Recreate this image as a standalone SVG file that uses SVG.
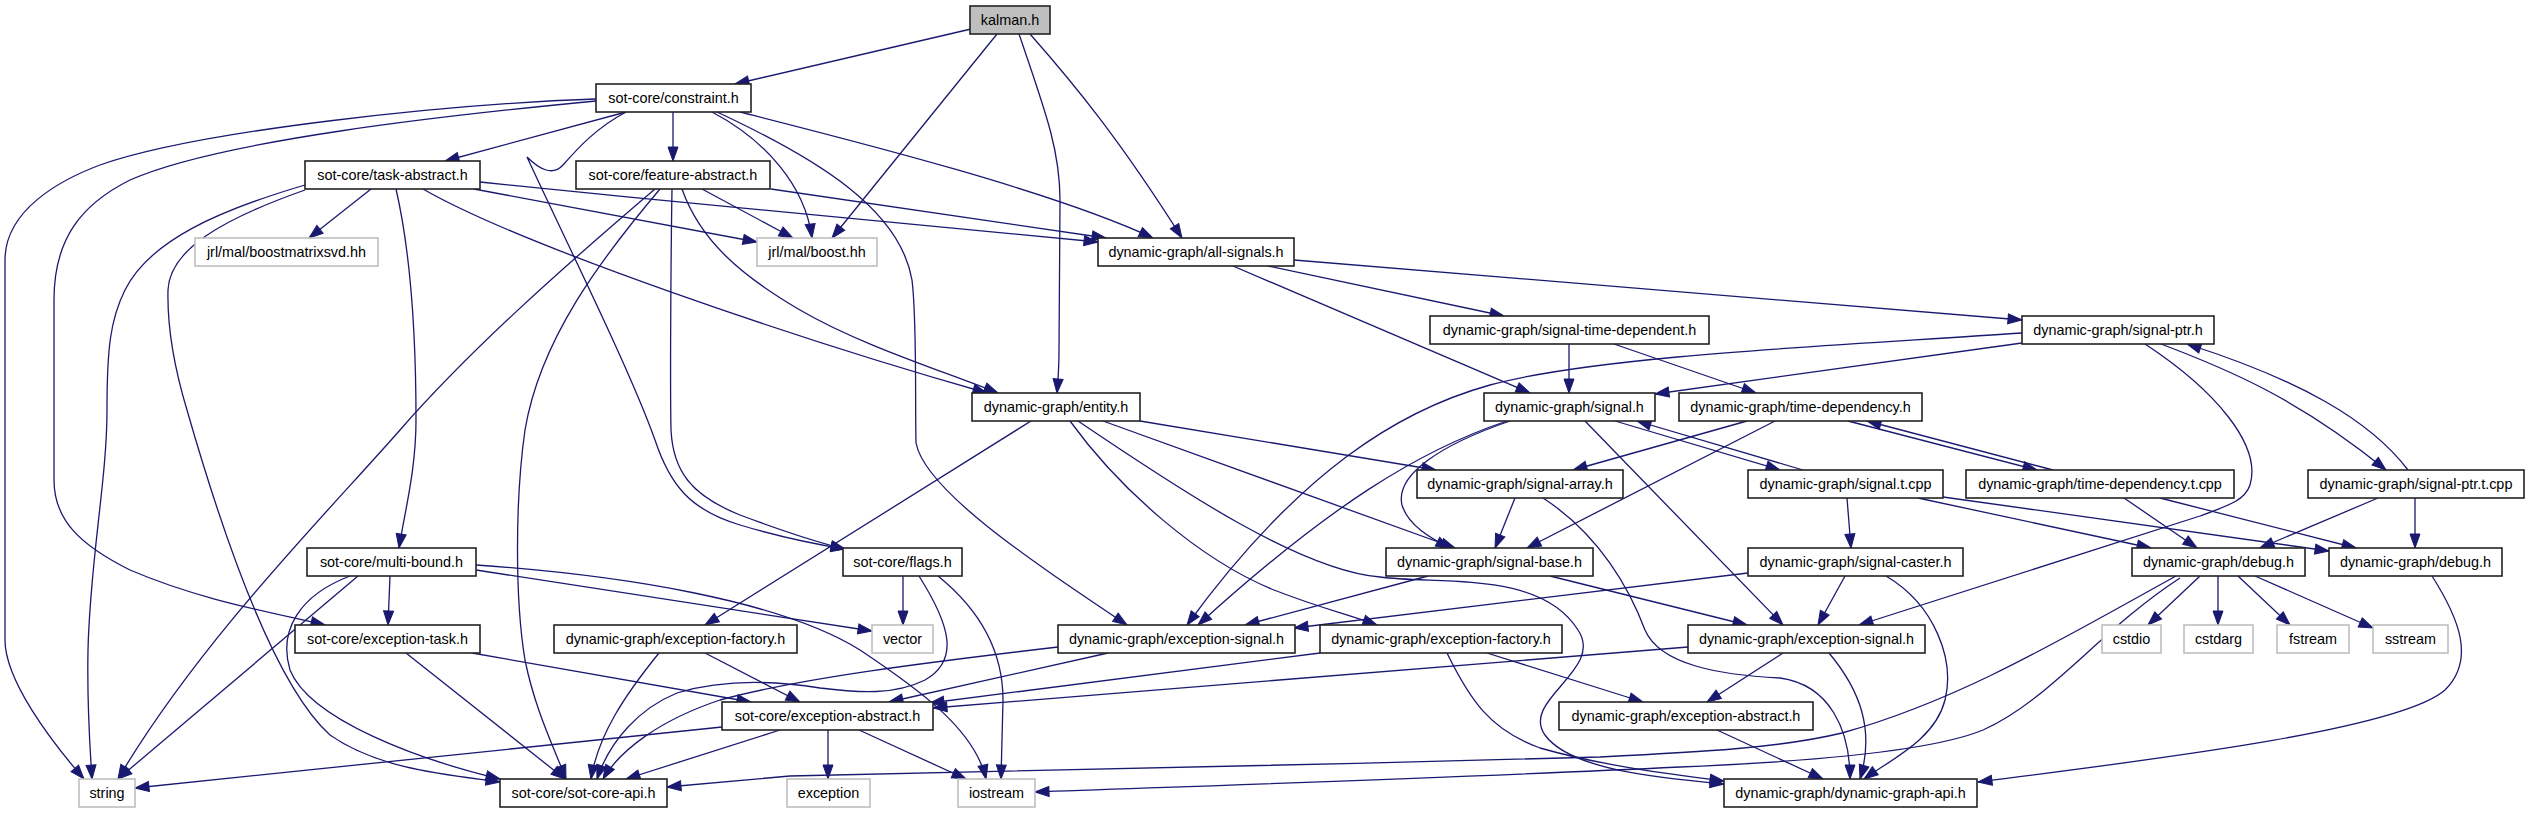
<svg xmlns="http://www.w3.org/2000/svg" width="2529" height="813" viewBox="0 0 2529 813">
<defs>
<style>
.n rect{fill:#fff;stroke:#222;stroke-width:1.6}
.g rect{fill:#fff;stroke:#bfbfbf;stroke-width:1.6}
.k rect{fill:#bfbfbf;stroke:#222;stroke-width:1.6}
text{font-family:"Liberation Sans",Arial,sans-serif;font-size:14.4px;text-anchor:middle;fill:#000}
#edges path{fill:none;stroke:#191970;stroke-width:1.3;marker-end:url(#a)}
</style>
<marker id="a" markerUnits="userSpaceOnUse" markerWidth="15" markerHeight="11" refX="14" refY="5" orient="auto" overflow="visible">
<path d="M0,0 L14,5 L0,10 Z" fill="#191970" stroke="#191970" stroke-width="1"/>
</marker>
</defs>
<rect width="2529" height="813" fill="#fff"/>
<g id="edges">
<path d="M971,29 L735,84"/>
<path d="M997,34 L832,238"/>
<path d="M1019,34 C1045,110 1060,150 1060,200 L1059,350 C1059,370 1058,380 1057,393"/>
<path d="M1030,34 C1075,85 1120,140 1182,238"/>
<path d="M626,112 L445,161"/>
<path d="M673,112 L673,161"/>
<path d="M596,99 C450,104 200,130 100,165 C60,180 5,210 5,260 L5,640 C5,680 50,740 84,779"/>
<path d="M596,101 C450,115 220,140 130,180 C80,205 54,240 54,300 L54,480 C54,520 80,545 130,570 C200,600 270,612 325,625"/>
<path d="M626,112 C596,128 578,148 563,165 C553,176 540,170 527,157 C570,250 630,370 655,440 C670,485 690,510 740,525 C780,537 820,545 845,549"/>
<path d="M712,112 C765,140 805,185 812,238"/>
<path d="M740,112 C850,140 1050,190 1153,238"/>
<path d="M717,112 C820,160 900,210 912,280 C917,320 915,400 916,443 C925,490 1030,560 1127,625"/>
<path d="M371,189 L309,238"/>
<path d="M474,189 L757,242"/>
<path d="M480,182 C700,205 950,228 1098,242"/>
<path d="M423,189 C520,245 800,340 987,393"/>
<path d="M396,189 C410,250 416,330 416,420 C416,470 405,510 399,548"/>
<path d="M305,185 C220,210 150,240 125,290 C110,320 107,350 107,410 C107,480 90,560 88,650 C87,700 90,750 92,779"/>
<path d="M305,190 C220,220 170,250 168,290 C167,330 175,370 187,410 C230,560 280,690 330,735 C380,770 450,775 500,782"/>
<path d="M702,189 L793,238"/>
<path d="M771,189 L1106,238"/>
<path d="M682,189 C700,240 740,275 800,310 C860,345 940,370 998,393"/>
<path d="M672,189 C671,250 670,380 671,430 C673,470 690,495 740,515 C780,530 820,543 845,549"/>
<path d="M655,189 C560,270 470,350 400,430 C330,510 200,640 118,779"/>
<path d="M660,189 C600,260 540,340 525,430 C515,500 515,600 525,660 C535,710 555,750 566,779"/>
<path d="M390,576 L388,625"/>
<path d="M358,576 L118,779"/>
<path d="M350,576 C300,595 278,630 290,670 C310,720 420,760 500,779"/>
<path d="M476,570 L872,631"/>
<path d="M476,565 C620,575 780,600 860,650 C920,690 975,730 986,779"/>
<path d="M406,653 L565,779"/>
<path d="M472,653 L751,702"/>
<path d="M659,653 C625,695 598,735 591,779"/>
<path d="M705,653 L800,702"/>
<path d="M722,727 L135,788"/>
<path d="M780,730 L626,779"/>
<path d="M828,730 L828,779"/>
<path d="M859,730 L966,779"/>
<path d="M903,576 L903,625"/>
<path d="M919,576 C950,625 960,660 925,680 C895,695 860,693 820,688 C770,680 720,680 677,693 C640,708 610,740 597,779"/>
<path d="M938,576 C980,610 1003,650 1003,700 L1001,779"/>
<path d="M1031,421 L705,625"/>
<path d="M1070,421 C1120,490 1200,560 1274,590 C1320,608 1350,615 1377,625"/>
<path d="M1140,421 L1436,470"/>
<path d="M1103,421 L1455,548"/>
<path d="M1078,421 C1180,490 1300,570 1380,577 C1440,585 1540,570 1578,630 C1605,670 1520,700 1545,735 C1570,770 1660,778 1724,784"/>
<path d="M1510,421 C1440,445 1395,475 1402,505 C1408,525 1430,538 1450,548"/>
<path d="M1507,421 C1420,450 1330,505 1198,625"/>
<path d="M1585,421 L1783,625"/>
<path d="M1615,421 L1780,470"/>
<path d="M1803,470 L1637,421"/>
<path d="M1747,421 L1573,470"/>
<path d="M1775,421 L1527,548"/>
<path d="M1848,421 L2037,470"/>
<path d="M2053,470 L1867,421"/>
<path d="M1515,498 L1495,548"/>
<path d="M1543,498 C1600,535 1630,590 1645,630 C1660,665 1720,675 1780,678 C1830,685 1850,730 1850,779"/>
<path d="M1428,576 L1245,625"/>
<path d="M1550,576 L1747,625"/>
<path d="M1569,344 L1569,393"/>
<path d="M1614,344 L1756,393"/>
<path d="M1233,266 L1530,393"/>
<path d="M1268,266 L1504,316"/>
<path d="M1294,260 L2022,320"/>
<path d="M2022,343 L1655,394"/>
<path d="M2022,333 C1850,345 1600,355 1490,385 C1400,410 1300,470 1187,625"/>
<path d="M2145,344 C2215,390 2262,445 2250,485 C2245,500 2230,505 2200,516 L1859,625"/>
<path d="M2161,344 C2230,370 2300,400 2386,470"/>
<path d="M2408,470 C2370,420 2300,380 2187,344"/>
<path d="M1847,498 L1851,548"/>
<path d="M1918,498 L2151,548"/>
<path d="M1943,497 L2329,551"/>
<path d="M2124,498 L2197,548"/>
<path d="M2160,498 L2356,548"/>
<path d="M2378,498 L2260,548"/>
<path d="M2415,498 L2415,548"/>
<path d="M1748,573 L1294,628"/>
<path d="M1845,576 L1818,625"/>
<path d="M1886,576 C1935,605 1955,660 1945,700 C1935,740 1890,760 1864,779"/>
<path d="M2200,576 L2148,625"/>
<path d="M2218,576 L2218,625"/>
<path d="M2238,576 L2290,625"/>
<path d="M2255,576 L2373,628"/>
<path d="M2176,576 C2060,640 1960,700 1842,733 C1780,748 1700,752 1600,757 C1300,766 900,772 790,776 L667,787"/>
<path d="M2180,578 C2100,630 2050,700 1983,730 C1930,752 1800,762 1680,767 C1450,778 1200,786 1035,792"/>
<path d="M2432,576 C2460,620 2475,660 2445,690 C2400,730 2150,760 1978,782"/>
<path d="M1783,653 L1707,702"/>
<path d="M1829,653 C1860,690 1875,730 1860,779"/>
<path d="M1688,647 L933,708"/>
<path d="M1108,653 L889,702"/>
<path d="M1058,647 C930,662 800,678 720,700 C660,720 620,750 603,779"/>
<path d="M1320,653 L930,703"/>
<path d="M1487,653 L1643,702"/>
<path d="M1447,653 C1470,700 1490,730 1540,748 C1600,765 1660,773 1724,781"/>
<path d="M1717,730 L1823,779"/>
</g>
<g id="n_kalman" class="k"><rect x="970" y="6" width="80" height="28"/><text x="1010" y="25">kalman.h</text></g>
<g id="n_constraint" class="n"><rect x="596" y="84" width="155" height="28"/><text x="673.5" y="103">sot-core/constraint.h</text></g>
<g id="n_task" class="n"><rect x="305" y="161" width="175" height="28"/><text x="392.5" y="180">sot-core/task-abstract.h</text></g>
<g id="n_feature" class="n"><rect x="576" y="161" width="194" height="28"/><text x="673" y="180">sot-core/feature-abstract.h</text></g>
<g id="n_svd" class="g"><rect x="195" y="238" width="183" height="28"/><text x="286.5" y="257">jrl/mal/boostmatrixsvd.hh</text></g>
<g id="n_boost" class="g"><rect x="757" y="238" width="120" height="28"/><text x="817" y="257">jrl/mal/boost.hh</text></g>
<g id="n_allsig" class="n"><rect x="1098" y="238" width="196" height="28"/><text x="1196" y="257">dynamic-graph/all-signals.h</text></g>
<g id="n_std" class="n"><rect x="1430" y="316" width="279" height="28"/><text x="1569.5" y="335">dynamic-graph/signal-time-dependent.h</text></g>
<g id="n_sptr" class="n"><rect x="2022" y="316" width="192" height="28"/><text x="2118" y="335">dynamic-graph/signal-ptr.h</text></g>
<g id="n_entity" class="n"><rect x="972" y="393" width="168" height="28"/><text x="1056" y="412">dynamic-graph/entity.h</text></g>
<g id="n_signal" class="n"><rect x="1484" y="393" width="171" height="28"/><text x="1569.5" y="412">dynamic-graph/signal.h</text></g>
<g id="n_tdep" class="n"><rect x="1679" y="393" width="243" height="28"/><text x="1800.5" y="412">dynamic-graph/time-dependency.h</text></g>
<g id="n_sarr" class="n"><rect x="1417" y="470" width="206" height="28"/><text x="1520" y="489">dynamic-graph/signal-array.h</text></g>
<g id="n_stcpp" class="n"><rect x="1748" y="470" width="195" height="28"/><text x="1845.5" y="489">dynamic-graph/signal.t.cpp</text></g>
<g id="n_tdtcpp" class="n"><rect x="1966" y="470" width="268" height="28"/><text x="2100" y="489">dynamic-graph/time-dependency.t.cpp</text></g>
<g id="n_sptrt" class="n"><rect x="2308" y="470" width="216" height="28"/><text x="2416" y="489">dynamic-graph/signal-ptr.t.cpp</text></g>
<g id="n_mbound" class="n"><rect x="307" y="548" width="169" height="28"/><text x="391.5" y="567">sot-core/multi-bound.h</text></g>
<g id="n_flags" class="n"><rect x="843" y="548" width="119" height="28"/><text x="902.5" y="567">sot-core/flags.h</text></g>
<g id="n_sbase" class="n"><rect x="1386" y="548" width="207" height="28"/><text x="1489.5" y="567">dynamic-graph/signal-base.h</text></g>
<g id="n_scast" class="n"><rect x="1748" y="548" width="215" height="28"/><text x="1855.5" y="567">dynamic-graph/signal-caster.h</text></g>
<g id="n_dbg1" class="n"><rect x="2132" y="548" width="173" height="28"/><text x="2218.5" y="567">dynamic-graph/debug.h</text></g>
<g id="n_dbg2" class="n"><rect x="2329" y="548" width="173" height="28"/><text x="2415.5" y="567">dynamic-graph/debug.h</text></g>
<g id="n_exctask" class="n"><rect x="295" y="625" width="185" height="28"/><text x="387.5" y="644">sot-core/exception-task.h</text></g>
<g id="n_efact1" class="n"><rect x="554" y="625" width="243" height="28"/><text x="675.5" y="644">dynamic-graph/exception-factory.h</text></g>
<g id="n_vector" class="g"><rect x="872" y="625" width="61" height="28"/><text x="902.5" y="644">vector</text></g>
<g id="n_esig1" class="n"><rect x="1058" y="625" width="237" height="28"/><text x="1176.5" y="644">dynamic-graph/exception-signal.h</text></g>
<g id="n_efact2" class="n"><rect x="1320" y="625" width="242" height="28"/><text x="1441" y="644">dynamic-graph/exception-factory.h</text></g>
<g id="n_esig2" class="n"><rect x="1688" y="625" width="237" height="28"/><text x="1806.5" y="644">dynamic-graph/exception-signal.h</text></g>
<g id="n_cstdio" class="g"><rect x="2102" y="625" width="59" height="28"/><text x="2131.5" y="644">cstdio</text></g>
<g id="n_cstdarg" class="g"><rect x="2184" y="625" width="69" height="28"/><text x="2218.5" y="644">cstdarg</text></g>
<g id="n_fstream" class="g"><rect x="2277" y="625" width="72" height="28"/><text x="2313" y="644">fstream</text></g>
<g id="n_sstream" class="g"><rect x="2373" y="625" width="75" height="28"/><text x="2410.5" y="644">sstream</text></g>
<g id="n_scexc" class="n"><rect x="722" y="702" width="211" height="28"/><text x="827.5" y="721">sot-core/exception-abstract.h</text></g>
<g id="n_dgexc" class="n"><rect x="1559" y="702" width="254" height="28"/><text x="1686" y="721">dynamic-graph/exception-abstract.h</text></g>
<g id="n_string" class="g"><rect x="79" y="779" width="56" height="28"/><text x="107" y="798">string</text></g>
<g id="n_scapi" class="n"><rect x="500" y="779" width="167" height="28"/><text x="583.5" y="798">sot-core/sot-core-api.h</text></g>
<g id="n_exception" class="g"><rect x="787" y="779" width="83" height="28"/><text x="828.5" y="798">exception</text></g>
<g id="n_iostream" class="g"><rect x="958" y="779" width="77" height="28"/><text x="996.5" y="798">iostream</text></g>
<g id="n_dgapi" class="n"><rect x="1724" y="779" width="253" height="28"/><text x="1850.5" y="798">dynamic-graph/dynamic-graph-api.h</text></g>
</svg>
